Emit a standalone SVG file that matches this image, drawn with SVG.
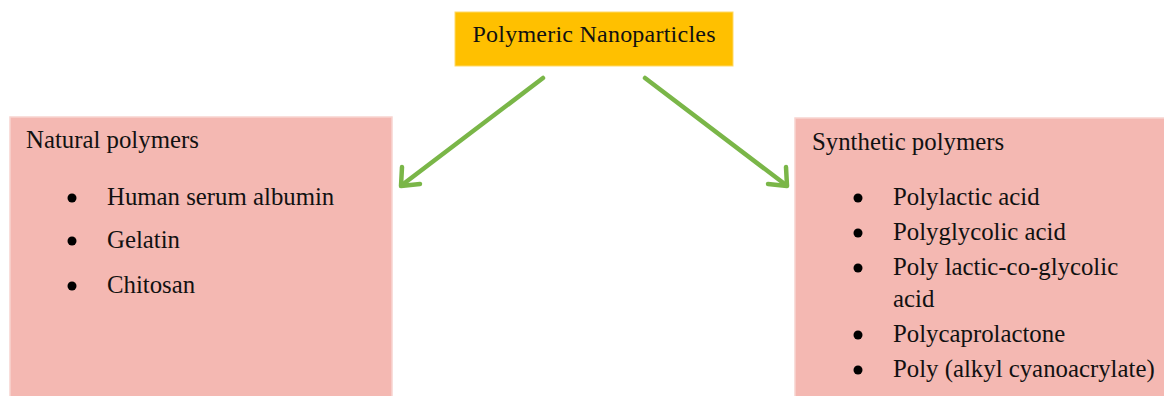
<svg xmlns="http://www.w3.org/2000/svg" width="1164" height="396" viewBox="0 0 1164 396">
<style>
.t{font-family:"Liberation Serif","Times New Roman",serif;font-size:24px;fill:#111;}
.b{font-size:24.8px;}
.box{fill:#F4B8B2;stroke:#F8D4D0;stroke-width:1.5;}
.conn{stroke:#7AB648;stroke-width:4.5;fill:none;stroke-linecap:round;}
.head{fill:none;stroke:#7AB648;stroke-width:4.5;stroke-linecap:round;stroke-linejoin:round;}
</style>
<rect width="1164" height="396" fill="#fff"/>
<g id="root">
<rect x="455" y="12" width="278" height="54" fill="#FFC000" stroke="#FFD966" stroke-width="1"/>
<text class="t" x="594" y="42" text-anchor="middle" textLength="243">Polymeric Nanoparticles</text>
</g>
<g id="connectors">
<line class="conn" x1="543" y1="78" x2="402" y2="185"/>
<polyline class="head" points="402,167 401,186 420,184"/>
<line class="conn" x1="645" y1="78" x2="786" y2="185"/>
<polyline class="head" points="768,184 787,186 786,167"/>
</g>
<g id="natural">
<rect class="box" x="10" y="117" width="382" height="290"/>
<text class="t b" x="26" y="148">Natural polymers</text>
<circle cx="72" cy="198" r="4.5" fill="#000"/>
<text class="t b" x="107" y="205">Human serum albumin</text>
<circle cx="72" cy="241" r="4.5" fill="#000"/>
<text class="t b" x="107" y="248">Gelatin</text>
<circle cx="72" cy="286" r="4.5" fill="#000"/>
<text class="t b" x="107" y="293">Chitosan</text>
</g>
<g id="synthetic">
<rect class="box" x="795" y="118" width="380" height="290"/>
<text class="t b" x="812" y="150">Synthetic polymers</text>
<circle cx="858" cy="198" r="4.5" fill="#000"/>
<text class="t b" x="893" y="205">Polylactic acid</text>
<circle cx="858" cy="233" r="4.5" fill="#000"/>
<text class="t b" x="893" y="240">Polyglycolic acid</text>
<circle cx="858" cy="268" r="4.5" fill="#000"/>
<text class="t b" x="893" y="275">Poly lactic-co-glycolic</text>
<text class="t b" x="893" y="307">acid</text>
<circle cx="858" cy="335" r="4.5" fill="#000"/>
<text class="t b" x="893" y="342">Polycaprolactone</text>
<circle cx="858" cy="370" r="4.5" fill="#000"/>
<text class="t b" x="893" y="377">Poly (alkyl cyanoacrylate)</text>
</g>
</svg>
